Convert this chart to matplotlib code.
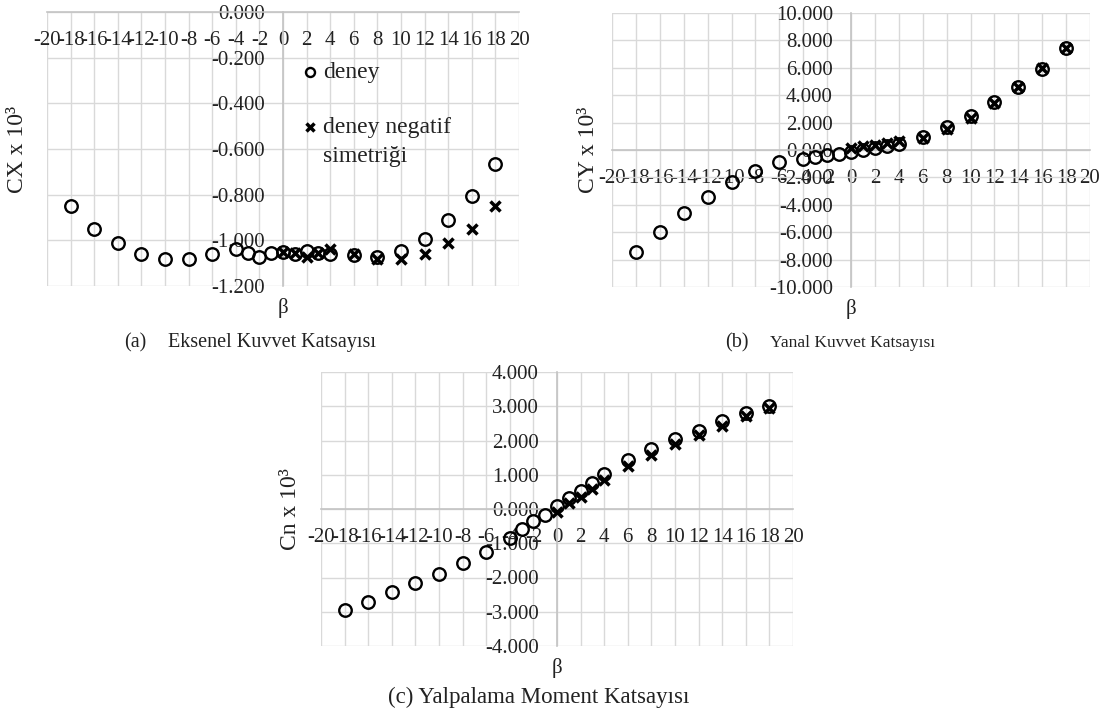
import matplotlib
matplotlib.use("Agg")
import matplotlib.pyplot as plt
import numpy as np
from matplotlib.ticker import FuncFormatter

plt.rcParams['font.family'] = ['Liberation Serif', 'DejaVu Serif']
plt.rcParams['axes.unicode_minus'] = False

# sideslip angles (deg)
beta_deney = [-18, -16, -14, -12, -10, -8, -6, -4, -3, -2, -1, 0, 1, 2, 3, 4, 6, 8, 10, 12, 14, 16, 18]
beta_sym = [0, 1, 2, 3, 4, 6, 8, 10, 12, 14, 16, 18]

# (a) axial force coefficient
cx_deney = [-0.850, -0.949, -1.013, -1.060, -1.082, -1.082, -1.062, -1.040, -1.055, -1.073, -1.057,
            -1.052, -1.058, -1.045, -1.055, -1.060, -1.063, -1.072, -1.045, -0.995, -0.909, -0.806, -0.666]
cx_sym = [-1.052, -1.057, -1.073, -1.055, -1.040, -1.062, -1.082, -1.082, -1.060, -1.013, -0.949, -0.850]

# (b) side force coefficient
cy_deney = [-7.43, -5.98, -4.60, -3.46, -2.35, -1.50, -0.90, -0.65, -0.48, -0.34, -0.29,
            -0.12, -0.02, 0.15, 0.31, 0.44, 0.92, 1.69, 2.49, 3.51, 4.60, 5.93, 7.41]
cy_sym = [0.12, 0.29, 0.34, 0.48, 0.65, 0.90, 1.50, 2.35, 3.46, 4.60, 5.98, 7.43]

# (c) yawing moment coefficient
cn_deney = [-2.96, -2.71, -2.41, -2.16, -1.91, -1.59, -1.25, -0.85, -0.58, -0.36, -0.18,
            0.08, 0.33, 0.52, 0.76, 1.03, 1.42, 1.74, 2.04, 2.29, 2.57, 2.80, 3.02]
cn_sym = [-0.08, 0.18, 0.36, 0.58, 0.85, 1.25, 1.59, 1.91, 2.16, 2.41, 2.71, 2.96]

W, H = 1108, 711
TXT = '#222222'
GRID = '#d9d9d9'
AXIS = '#c4c4c4'

fig = plt.figure(figsize=(W / 100, H / 100), dpi=100)


def px_axes(left, top, right, bottom):
    return fig.add_axes([left / W, 1 - bottom / H, (right - left) / W, (bottom - top) / H])


def draw_panel(ax, yd, ys, ylim, ystep, ylabel, ylabel_x):
    ax.set_xlim(-20, 20)
    ax.set_ylim(*ylim)
    ax.set_xticks(range(-20, 21, 2))
    n = int(round((ylim[1] - ylim[0]) / ystep))
    ax.set_yticks(np.round(np.linspace(ylim[0], ylim[1], n + 1), 6))
    ax.yaxis.set_major_formatter(FuncFormatter(lambda v, p: f"{round(v, 6) + 0:.3f}"))
    ax.xaxis.set_major_formatter(FuncFormatter(lambda v, p: f"{v:.0f}"))
    ax.grid(True, color=GRID, lw=1.0)
    ax.set_axisbelow(True)
    for gl in ax.get_xgridlines() + ax.get_ygridlines():
        gl.set_clip_on(False)
    ax.spines['top'].set_visible(False)
    ax.spines['right'].set_visible(False)
    ax.spines['left'].set_position(('data', 0))
    ax.spines['bottom'].set_position(('data', 0))
    for s in ['left', 'bottom']:
        ax.spines[s].set_color(AXIS)
        ax.spines[s].set_linewidth(1.2)
    ax.tick_params(length=0, labelsize=15, labelcolor=TXT)
    ax.tick_params(axis='x', pad=14)
    ax.tick_params(axis='y', pad=13)

    ax.plot(beta_deney, yd, 'o', mfc='none', mec='black', ms=9, mew=1.7,
            ls='none', zorder=3, clip_on=False)
    ax.plot(beta_sym, ys, 'x', color='black', ms=7, mew=2.5,
            ls='none', zorder=4, clip_on=False)

    ax.annotate('β', xy=(0, ylim[0]), xytext=(0, -16), textcoords='offset points',
                ha='center', va='center', fontsize=15, color=TXT)
    ax.text(ylabel_x, 0.5, ylabel, transform=ax.transAxes, rotation=90,
            ha='center', va='center', fontsize=17, color=TXT)


# (a)
ax_a = px_axes(47, 12, 519, 286)
draw_panel(ax_a, cx_deney, cx_sym, (-1.2, 0.0), 0.2, 'CX x 10³', -29 / 472)

# legend of (a)
ax_a.plot([0.557], [0.781], 'o', mfc='none', mec='black', ms=6.5, mew=1.7,
          transform=ax_a.transAxes, clip_on=False)
ax_a.plot([0.557], [0.580], 'x', color='black', ms=6, mew=2.5,
          transform=ax_a.transAxes, clip_on=False)
ax_a.text(0.584, 0.781, 'deney', transform=ax_a.transAxes, ha='left',
          va='center', fontsize=17, color=TXT)
ax_a.text(0.584, 0.580, 'deney negatif', transform=ax_a.transAxes, ha='left',
          va='center', fontsize=17, color=TXT)
ax_a.text(0.584, 0.474, 'simetriği', transform=ax_a.transAxes, ha='left',
          va='center', fontsize=17, color=TXT)

# (b)
ax_b = px_axes(612, 13, 1090, 287)
draw_panel(ax_b, cy_deney, cy_sym, (-10.0, 10.0), 2.0, 'CY x 10³', -23 / 478)

# (c)
ax_c = px_axes(321, 372, 793, 646)
draw_panel(ax_c, cn_deney, cn_sym, (-4.0, 4.0), 1.0, 'Cn x 10³', -31 / 472)

# captions
fig.text(124 / W, 1 - 343 / H, '(a)', ha='left', va='center', fontsize=14.5, color=TXT)
fig.text(168 / W, 1 - 343 / H, 'Eksenel Kuvvet Katsayısı', ha='left', va='center',
         fontsize=14.5, color=TXT)
fig.text(725 / W, 1 - 343 / H, '(b)', ha='left', va='center', fontsize=14.5, color=TXT)
fig.text(770 / W, 1 - 343 / H, 'Yanal Kuvvet Katsayısı', ha='left', va='center',
         fontsize=12.5, color=TXT)
fig.text(539 / W, 1 - 697 / H, '(c) Yalpalama Moment Katsayısı', ha='center', va='center',
         fontsize=16.5, color=TXT)

fig.savefig('out.png', dpi=100)
